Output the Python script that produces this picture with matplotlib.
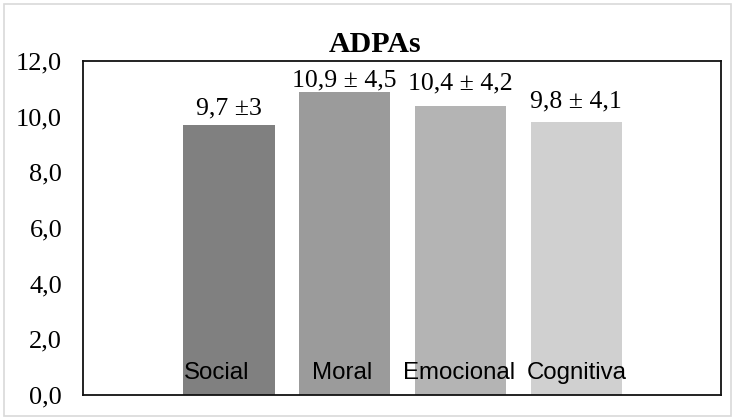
import matplotlib.pyplot as plt
from matplotlib.patches import Rectangle

# --- datos ---
categorias = ["Social", "Moral", "Emocional", "Cognitiva"]
medias = [9.7, 10.9, 10.4, 9.8]
etiquetas = ["9,7 ±3", "10,9 ± 4,5", "10,4 ± 4,2", "9,8 ± 4,1"]
colores = ["#808080", "#9b9b9b", "#b4b4b4", "#d0d0d0"]
yticks = [0, 2, 4, 6, 8, 10, 12]
ytick_labels = ["0,0", "2,0", "4,0", "6,0", "8,0", "10,0", "12,0"]

# separación de cada etiqueta de valor respecto a la barra (px)
sep_valor = [11, 5, 16, 15]
# desplazamiento horizontal de los nombres de categoría (px)
desp_cat = [-12, -3, -1, 0]

W, H = 735, 420
fig = plt.figure(figsize=(W / 100, H / 100), dpi=100)
ax = fig.add_axes([83 / W, 1 - 395 / H, (721 - 83) / W, (395 - 61) / H])

x = list(range(len(categorias)))
bars = ax.bar(x, medias, width=0.79, color=colores, zorder=2)

ax.set_xlim(-1.26, 4.25)
ax.set_ylim(0, 12)
ax.set_yticks(yticks)
ax.set_yticklabels(ytick_labels, family="Liberation Serif", fontsize=19)
ax.tick_params(axis="y", length=0, pad=15)
ax.set_xticks([])
for s in ax.spines.values():
    s.set_linewidth(1.3)
    s.set_color("#111111")

px = 72 / 100
for i, b in enumerate(bars):
    cx = b.get_x() + b.get_width() / 2
    ax.annotate(etiquetas[i], (cx, b.get_height()), xytext=(0, sep_valor[i] * px),
                textcoords="offset points", ha="center", va="baseline",
                family="Liberation Serif", fontsize=18.5)
    ax.annotate(categorias[i], (cx, 0), xytext=(desp_cat[i] * px, 16 * px),
                textcoords="offset points", ha="center", va="baseline",
                family="Liberation Sans", fontsize=17.3)

fig.text(375 / W, 1 - 52 / H, "ADPAs", ha="center", va="baseline",
         family="Liberation Serif", fontweight="bold", fontsize=21.5)

fig.patches.append(Rectangle((4 / W, 4 / H), 727 / W, 412 / H, transform=fig.transFigure,
                             fill=False, edgecolor="#d9d9d9", linewidth=1.2))

fig.savefig("out.png", dpi=100)
